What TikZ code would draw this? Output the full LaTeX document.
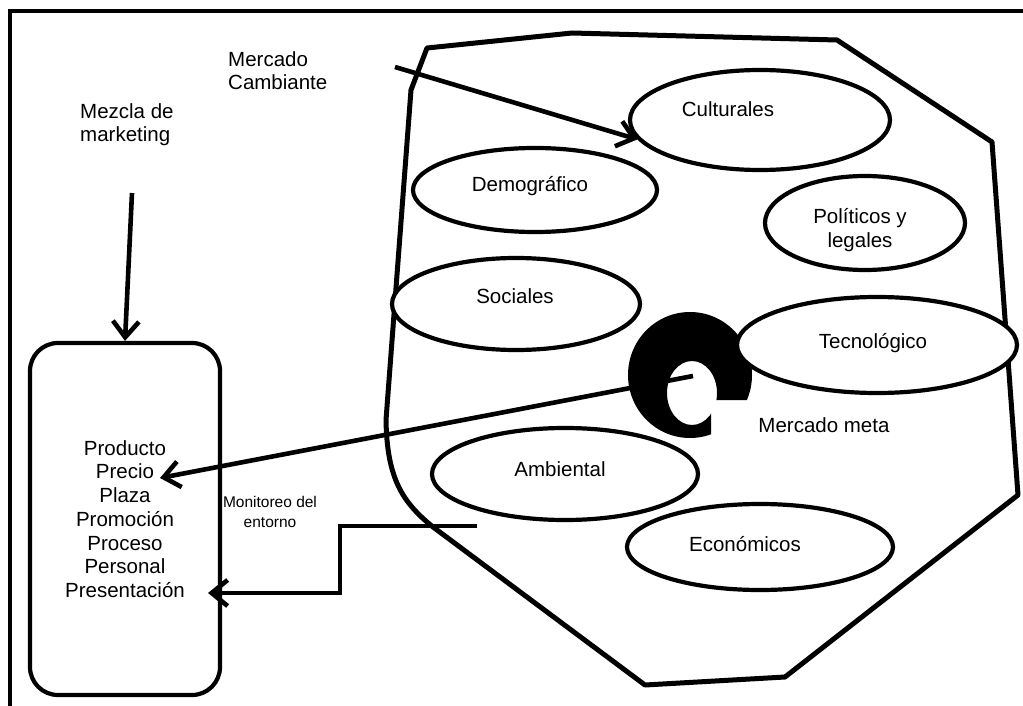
\documentclass[tikz,border=0pt]{standalone}
\usepackage{fontspec}
\setmainfont{Liberation Sans}
\usetikzlibrary{shapes.geometric,arrows.meta}
\begin{document}
\begin{tikzpicture}[x=1bp,y=-1bp,
  env/.style={ellipse, draw, line width=4.2bp, fill=white, inner sep=0pt},
  lbl/.style={font=\fontsize{20.5bp}{23.7bp}\selectfont, inner sep=0pt},
  small/.style={font=\fontsize{15.5bp}{20bp}\selectfont, inner sep=0pt},
  conn/.style={line width=4.6bp, -{Straight Barb[length=16bp,width=26bp]}},
]

\fill[white] (0,0) rectangle (1023,706);
\useasboundingbox (0,0) rectangle (1023,706);

% page frame
\draw[line width=4.2bp] (1023,11) -- (10,11) -- (10,706);

% environment outline
\draw[line width=5bp, line join=round]
  (427,48) -- (572,33) -- (837,40) -- (992,142) -- (1018,495)
  -- (785,677) -- (645,685) -- (433,527)
  .. controls (402,502) and (387,478) .. (386,420) -- (411,90) -- cycle;

% target market glyph
\begin{scope}
  \clip (600,300) -- (780,300) -- (780,400) -- (711,400) -- (711,460) -- (600,460) -- cycle;
  \fill[even odd rule] (690,375) ellipse [x radius=62bp, y radius=63bp]
                       (692,393) ellipse [x radius=25bp, y radius=32bp];
\end{scope}

% environment factors
\node[env, minimum width=260bp, minimum height=100bp] (cult) at (760,120) {};
\node[env, minimum width=244bp, minimum height=84bp]  (demo) at (535,190) {};
\node[env, minimum width=200bp, minimum height=94bp]  (poli) at (865,223) {};
\node[env, minimum width=248bp, minimum height=92bp]  (soci) at (516,304) {};
\node[env, minimum width=280bp, minimum height=96bp]  (tecn) at (877,345) {};
\node[env, minimum width=266bp, minimum height=92bp]  (ambi) at (565,474) {};
\node[env, minimum width=266bp, minimum height=86bp]  (econ) at (760,547) {};

\node[lbl, anchor=base] (cult-t) at (728,117) {Culturales};
\node[lbl, anchor=base] (demo-t) at (530,192) {Demográfico};
\node[lbl, anchor=base, align=center] (poli-t) at (860,247) {Políticos y\\legales};
\node[lbl, anchor=base] (soci-t) at (515,303) {Sociales};
\node[lbl, anchor=base] (tecn-t) at (873,348) {Tecnológico};
\node[lbl, anchor=base] (meta-t) at (824,432) {Mercado meta};
\node[lbl, anchor=base] (ambi-t) at (560,476) {Ambiental};
\node[lbl, anchor=base] (econ-t) at (745,551) {Económicos};

% marketing mix
\node[draw, line width=4.2bp, rounded corners=28bp, minimum width=190bp,
      minimum height=352bp, align=center, lbl] (mix) at (125,519)
  {Producto\\Precio\\Plaza\\Promoción\\Proceso\\Personal\\Presentación};

\node[lbl, anchor=base west, align=left] (mezcla) at (80,142) {Mezcla de\\marketing};
\node[lbl, anchor=base west, align=left] (cambio) at (228,90) {Mercado\\Cambiante};
\node[small, anchor=base, align=center] (monit) at (270,527) {Monitoreo del\\entorno};

% connectors
\coordinate (cambio-src) at (395,67);
\draw[conn] (cambio-src) -- (cult.189);

\coordinate (mezcla-src) at (132,193);
\draw[conn] (mezcla-src) -- (mix.north);

\coordinate (meta-src) at (693,376);
\coordinate (precio) at (160,478);
\draw[conn] (meta-src) -- (precio);

\coordinate (monit-src) at (477,526);
\coordinate (present) at (208,593);
\draw[conn] (monit-src) -- (340,526) -- (340,593) -- (present);

\end{tikzpicture}
\end{document}
